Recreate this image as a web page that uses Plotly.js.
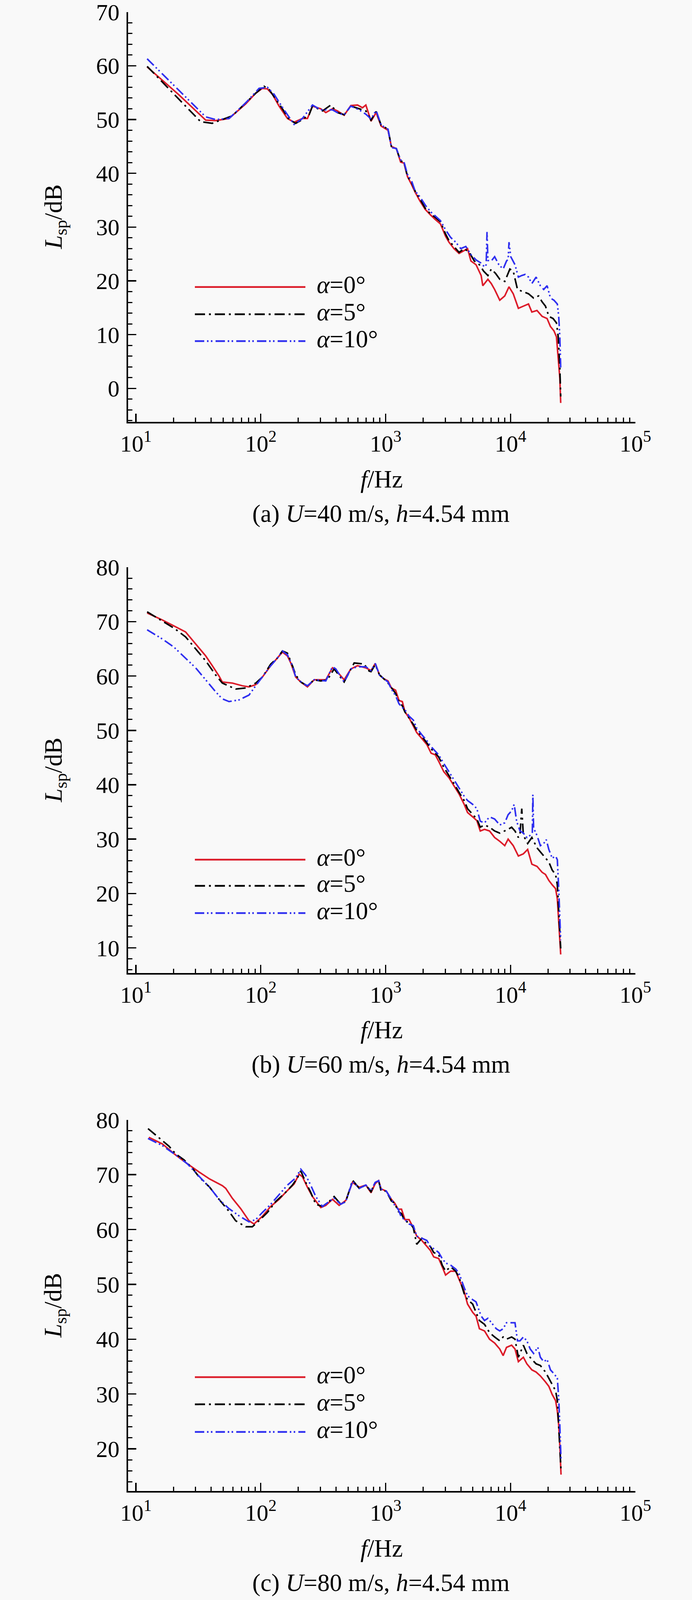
<!DOCTYPE html>
<html>
<head>
<meta charset="utf-8">
<script src="https://cdn.plot.ly/plotly-3.0.1.min.js"></script>
<style>html,body{margin:0;padding:0;background:#f9f9f9;overflow:hidden;}#chart{width:1772px;}</style>
</head>
<body>
<div id="chart"></div>
<script>
// ---------------- DATA ----------------
const seriesNames = ['α=0°', 'α=5°', 'α=10°'];
const captions = ['(a) <i>U</i>=40 m/s, <i>h</i>=4.54 mm', '(b) <i>U</i>=60 m/s, <i>h</i>=4.54 mm', '(c) <i>U</i>=80 m/s, <i>h</i>=4.54 mm'];
const xTickVals = [10, 100, 1000, 10000, 100000];
const xTickText = ['10<sup>1</sup>', '10<sup>2</sup>', '10<sup>3</sup>', '10<sup>4</sup>', '10<sup>5</sup>'];

// Panel (a) U=40 m/s
const fA0 = [12.3,22.1,36.2,43.5,55.7,75.7,91.1,103,113,123.9,140.2,163.5,184.9,215.7,236.5,259.4,302.5,331.8,375.3,411.6,465.3,526.4,595.4,652.9,694.3,764,839,920,1045,1112,1219,1318,1403,1496,1614,1722,1888,2075,2280,2500,2748,3020,3214,3524,3873,4256,4529,4819,5297,5821,5998,6592,7015,7464,8204,8995,9727,10520,11561,12677,13932,14825,16293,17906,19634,20893,22284,23335,24099,24831,25235];
const LA0 = [59.8,54.6,49.9,49.8,50.2,52.9,54.9,55.8,55.7,54.7,52.5,50.2,49.5,50.2,50.2,52.5,52.0,51.3,52.0,51.6,50.8,52.6,52.7,52.2,52.7,49.7,51.3,48.8,48.0,45.0,44.6,42.1,41.9,39.4,37.9,36.5,34.8,33.3,32.3,31.4,30.6,28.3,27.2,26.0,25.1,25.6,26.0,23.7,23.0,21.0,19.1,20.3,19.5,18.4,16.4,17.2,18.9,17.6,14.9,15.3,15.7,14.2,14.5,13.4,13.0,11.5,10.7,9.6,5.7,1.9,-2.7];
const fA5 = [12.3,33.0,40.9,49.2,59.2,75.7,91.1,106.2,116.5,131.8,149.1,168.6,190.6,215.7,243.9,259.4,312,363.9,411.6,465.3,526.4,614.1,694.3,764,839,920,1045,1112,1219,1318,1403,1496,1614,1722,1888,2075,2280,2500,2748,3020,3214,3524,3873,4256,4677,5129,5636,6095,6592,7015,7586,8204,8995,9886,10520,11376,12677,13932,15311,16788,17906,19055,20277,21928,23335,24099,24831,25235];
const LA5 = [59.9,49.6,49.3,50.0,50.7,53.1,54.9,56.2,55.6,53.8,52.0,50.0,49.3,50.0,50.9,52.5,51.6,52.7,51.3,50.9,52.5,52.0,51.6,49.9,51.5,49.0,48.2,45.0,44.6,42.3,42.1,39.4,38.3,36.7,35.2,33.5,32.5,31.8,31.0,28.7,27.5,26.4,25.3,26.0,25.3,23.7,23.0,21.8,21.0,22.2,21.4,20.3,19.9,22.2,21.8,18.4,18.0,17.6,16.8,17.2,16.1,15.3,13.4,13.0,12.2,9.6,3.8,-1.5];
const fA10 = [12.3,36.2,43.5,55.7,75.7,96.9,113,127.8,153.7,184.9,215.7,259.4,302.5,375.3,424.4,465.3,526.4,614.1,694.3,764,839,920,1045,1112,1219,1318,1403,1496,1614,1722,1888,2075,2280,2500,2748,3020,3311,3639,3999,4385,4819,5297,5821,6194,6383,6486,6592,7015,7464,8072,8730,9290,9572,9727,10046,10864,11561,12303,13092,13932,14825,16032,17338,18450,19634,20893,22284,23714,24322,24831,25235];
const LA10 = [61.3,50.5,50.0,50.2,53.1,55.8,56.0,54.7,51.8,49.1,50.2,52.7,51.8,51.8,51.1,50.9,52.5,51.8,51.0,50.1,51.7,49.0,48.2,44.8,44.6,42.5,42.1,39.8,38.6,36.7,35.6,34.1,32.9,32.1,31.2,29.5,28.1,27.2,26.0,26.4,24.9,23.9,23.3,22.6,23.0,29.1,23.8,23.7,24.5,23.0,22.2,23.7,24.0,27.2,24.5,23.0,20.7,21.0,21.2,20.7,19.5,20.7,19.1,18.4,19.1,16.8,16.4,15.7,13.4,9.6,3.8];

// Panel (b) U=60 m/s
const fB0 = [12.3,16.3,20.2,25.0,30.1,36.2,40.9,46.3,49.2,59.2,71.2,80.5,91.1,103,120.2,135.9,149.1,163.5,173.9,190.6,209.1,236.5,267.4,302.5,331.8,375.3,399,465.3,526.4,595.4,694.3,764,826,893,966,1045,1112,1201,1279,1361,1427,1542,1667,1774,1950,2138,2314,2500,2661,2924,3214,3524,3873,4256,4529,4977,5378,5724,6194,6792,7464,8204,8995,9572,10520,11561,12677,13722,14825,16293,17906,19055,20277,21577,22961,23714,24322,24831,25235];
const LB0 = [71.6,70.3,69.2,68.1,65.9,63.7,61.9,60.0,58.9,58.7,58.2,58.0,58.4,59.8,61.9,63.3,64.4,63.7,62.4,59.8,58.9,58.0,59.3,59.3,59.3,61.5,61.1,59.3,61.3,61.9,61.5,61.0,62.3,60.2,59.5,59.1,57.8,57.4,55.5,55.3,53.4,52.3,50.8,49.6,48.5,47.4,45.8,45.5,44.3,42.4,41.3,39.8,38.3,36.4,34.9,34.1,33.4,31.5,31.8,31.5,30.3,29.6,28.8,30.0,28.8,26.9,27.3,28.1,25.4,25.0,23.9,23.5,22.4,21.6,20.9,19.0,15.2,11.4,8.8];
const fB5 = [12.3,16.3,20.2,25.0,30.1,36.2,43.5,49.2,62.9,75.7,91.1,103,120.2,135.9,149.1,163.5,179.3,190.6,209.1,236.5,267.4,302.5,342,387,465.3,526.4,560,673,738,764,826,893,966,1045,1112,1201,1279,1361,1427,1542,1667,1774,1950,2138,2314,2500,2661,2924,3214,3524,3873,4256,4529,4977,5378,5724,6194,6792,7464,8204,8995,9572,10209,10864,11561,11912,12303,12677,13722,14825,16293,17906,19055,20277,21577,22961,23714,24322,24831,25235];
const LB5 = [71.8,70.1,68.8,67.2,65.0,62.8,60.2,58.7,57.6,57.8,58.7,59.8,62.2,63.3,64.6,64.2,61.9,60.2,58.9,58.2,59.3,59.1,59.3,61.3,58.9,61.3,62.4,62.2,60.9,60.8,62.1,60.2,59.5,58.7,57.9,56.8,55.3,54.5,53.4,52.3,51.1,50.0,48.9,47.7,46.6,45.8,45.1,43.2,41.7,40.2,38.6,37.1,35.6,34.5,33.7,32.2,32.6,32.2,31.5,31.1,31.5,31.8,32.2,31.5,30.3,30.8,35.6,30.7,29.2,30.3,28.4,27.3,26.5,25.8,24.3,23.5,21.6,17.1,13.3,9.9];
const fB10 = [12.3,16.3,20.2,25.0,30.1,36.2,43.5,49.2,55.7,66.9,80.5,91.1,103,120.2,135.9,149.1,163.5,179.3,190.6,215.7,236.5,267.4,331.8,375.3,399,465.3,526.4,595.4,694.3,764,826,893,966,1045,1112,1201,1279,1361,1427,1542,1667,1774,1950,2138,2314,2500,2661,2924,3214,3524,3873,4256,4529,4977,5378,5724,6194,6792,7464,8204,8995,9572,10209,10700,11194,11912,12677,13521,14388,14950,15100,15311,16293,17338,18450,19340,20277,21577,22961,23714,24322,24831,25235];
const LB10 = [68.5,66.8,65.3,63.3,61.5,59.3,57.1,55.8,55.3,55.6,56.5,58.2,59.8,61.9,63.3,64.6,63.9,61.9,59.8,58.7,58.2,59.3,59.1,61.7,61.3,58.9,61.3,61.7,61.7,61.0,62.3,60.2,59.5,58.9,57.6,56.4,54.9,54.2,53.8,52.6,51.9,50.4,49.2,48.1,47.0,46.2,45.5,43.9,42.4,40.9,39.4,37.9,37.1,36.4,35.6,33.3,33.0,34.1,33.7,32.6,33.0,34.5,35.2,36.4,33.3,31.5,31.1,30.3,30.7,31.0,38.2,32.0,30.7,28.8,29.2,29.9,28.1,26.5,26.9,26.2,20.9,15.2,11.4];

// Panel (c) U=80 m/s
const fC0 = [12.7,16.3,20.8,25.8,32.0,39.0,49.2,52.4,59.2,69.1,80.5,88.3,103,120.2,140.2,158.5,184.9,202.8,215.7,236.5,259.4,302.5,331.8,375.3,424.4,479.7,543,614.1,694.3,764,826,879,920,1012,1112,1183,1259,1340,1427,1542,1667,1774,1950,2138,2280,2427,2661,2838,3020,3311,3639,3873,4256,4529,4977,5297,5636,6194,6792,7464,8204,8730,9290,10209,10864,11561,12677,13521,14825,16032,17338,19055,20277,21577,22961,23714,24322,24831,25390];
const LC0 = [76.8,75.6,73.6,72.0,70.5,69.2,68.0,67.5,65.7,63.8,61.6,61.0,62.4,64.2,65.5,66.8,68.3,70.1,69.6,67.7,66.0,64.0,64.4,65.5,64.4,65.3,68.6,67.7,68.1,66.7,68.4,68.9,67.4,67.0,65.5,64.8,63.7,63.7,61.8,61.8,60.3,58.8,58.0,56.9,56.2,55.0,54.7,53.2,51.7,52.4,52.4,50.9,48.7,46.4,44.9,44.2,41.9,41.5,40.0,39.3,38.2,37.0,38.5,38.9,38.2,35.9,36.7,35.5,34.4,34.0,33.3,32.2,31.4,29.9,28.8,26.9,24.3,20.5,15.3];
const fC5 = [12.5,14.8,18.4,20.8,24.3,28.3,32.0,39.0,46.3,55.7,62.9,75.7,85.6,96.9,113,131.8,158.5,179.3,196.7,209,229,251,275.8,312,352.7,386.9,437.5,480,543,614.1,694.3,764,826,879,920,1012,1112,1183,1259,1340,1427,1542,1667,1774,1950,2138,2280,2427,2661,2838,3020,3311,3639,3873,4256,4529,4977,5297,5636,6194,6792,7464,8204,8730,9290,10209,10864,11561,12677,13521,14825,16032,17338,19055,20277,21577,22961,23714,24322,24831,25390];
const LC5 = [78.4,77.0,75.2,73.8,72.7,71.2,69.6,67.7,65.5,63.3,61.6,60.5,60.5,61.6,63.1,65.1,66.8,68.1,69.4,70.7,68.6,66.8,64.6,64.2,65.1,66.0,64.6,65.1,69.0,67.5,68.1,66.9,68.6,68.9,67.0,67.0,65.2,64.8,63.3,62.9,61.4,61.4,60.3,57.3,58.4,57.3,56.9,55.8,55.4,53.5,52.4,53.2,52.4,51.3,48.3,47.2,46.4,44.9,43.4,42.7,41.2,40.4,39.7,40.4,40.0,40.4,40.0,36.7,38.9,37.4,36.3,35.5,35.2,34.0,32.9,31.8,30.6,28.8,24.3,20.5,16.0];
const fC10 = [12.5,16.3,20.8,25.8,33.0,39.0,46.3,55.7,66.9,80.5,91.1,103,120.2,140.2,163.5,190.6,209,229,251,275.8,312,352.7,386.9,437.5,480,543,614.1,694.3,764,826,879,920,1012,1112,1183,1259,1340,1427,1542,1667,1774,1950,2138,2280,2427,2661,2838,3020,3311,3639,3873,4256,4529,4977,5297,5821,6194,6592,7015,7691,8204,8730,9290,10209,10864,11376,11912,12677,13521,14388,15311,16550,17338,18450,19634,20893,22284,23714,24322,24831,25390];
const LC10 = [76.6,75.3,73.6,72.0,69.4,67.7,65.5,63.8,62.5,61.4,61.8,63.1,64.6,66.4,68.1,69.4,71.0,69.9,68.1,66.0,64.2,65.1,65.7,64.6,65.1,68.8,67.5,68.1,67.1,68.6,68.9,67.4,67.0,65.5,64.4,63.7,62.2,61.8,61.0,60.7,58.8,58.4,58.0,56.9,56.5,55.8,54.7,53.9,53.5,52.8,52.0,49.4,47.9,47.2,46.8,44.2,43.4,43.8,43.0,41.9,41.5,41.9,43.0,43.0,43.0,39.7,39.7,40.4,39.7,38.2,37.4,38.5,36.7,35.9,36.3,34.4,33.7,32.9,29.2,24.3,17.9];

// ---------------- STYLE / LAYOUT ----------------
const W = 1772;
const REF_H = 4465;                       // height of the reference figure
const H = Math.min(REF_H, window.innerHeight || REF_H);  // visible page height
const sY = H / REF_H;                     // map reference rows onto the page
document.getElementById('chart').style.height = H + 'px';
const FONT = 'Liberation Serif, Times New Roman, serif';
const FS = 60;      // tick labels
const FT = 63;      // titles, captions, legend texts
const colors = ['#dc1c2a', '#000000', '#2f2ff0'];
const dashes = ['solid', '26px,10px,5px,10px', '24px,7px,4px,6px,4px,8px'];
const panels = [
  {top: 33.5, bottom: 1177, range: [-6.2, 70], legY: [801, 877, 952], data: [[fA0, LA0], [fA5, LA5], [fA10, LA10]]},
  {top: 1583, bottom: 2715, range: [5.4, 80], legY: [2399, 2472, 2548], data: [[fB0, LB0], [fB5, LB5], [fB10, LB10]]},
  {top: 3125, bottom: 4161, range: [12.3, 80], legY: [3843, 3919, 3996], data: [[fC0, LC0], [fC5, LC5], [fC10, LC10]]}
];
const plotLeft = 328, plotRight = 1627;
const px = x => x / W;
const py = y => 1 - (y * sY) / H;

const minorX = [];
[10, 100, 1000, 10000].forEach(d => { for (let k = 2; k <= 9; k++) minorX.push(k * d); });

const traces = [];
const layout = {
  width: W, height: H,
  margin: {l: 0, r: 0, t: 0, b: 0},
  paper_bgcolor: '#f9f9f9', plot_bgcolor: '#f9f9f9',
  showlegend: false,
  font: {family: FONT, color: '#000'},
  annotations: [], shapes: []
};

panels.forEach((p, i) => {
  const n = i === 0 ? '' : String(i + 1);
  const xa = 'x' + n, ya = 'y' + n;
  p.data.forEach((d, j) => {
    traces.push({
      x: d[0], y: d[1], xaxis: xa, yaxis: ya, type: 'scatter', mode: 'lines',
      name: seriesNames[j],
      line: {color: colors[j], width: 4, dash: dashes[j]}
    });
  });
  layout['xaxis' + n] = {
    type: 'log', range: [0.9375, 5], domain: [px(plotLeft), px(plotRight)], anchor: ya,
    showline: true, linecolor: '#000', linewidth: 4, mirror: false,
    showgrid: false, zeroline: false,
    ticks: 'inside', ticklen: 21, tickwidth: 3.5, tickcolor: '#000',
    tickmode: 'array', tickvals: xTickVals, ticktext: xTickText,
    tickfont: {family: FONT, size: FS, color: '#000'},
    ticklabelstandoff: 0, ticklabeloverflow: 'allow',
    minor: {tickmode: 'array', tickvals: minorX, ticks: 'inside', ticklen: 11, tickwidth: 3, tickcolor: '#000', showgrid: false}
  };
  layout['yaxis' + n] = {
    range: p.range, domain: [py(p.bottom), py(p.top)], anchor: xa,
    showline: true, linecolor: '#000', linewidth: 4, mirror: false,
    showgrid: false, zeroline: false,
    ticks: 'inside', ticklen: 21, tickwidth: 3.5, tickcolor: '#000',
    tick0: 0, dtick: 10,
    tickfont: {family: FONT, size: FS, color: '#000'},
    ticklabelstandoff: 6, ticklabeloverflow: 'allow',
    minor: {tick0: 0, dtick: 2, ticks: 'inside', ticklen: 11, tickwidth: 3, tickcolor: '#000', showgrid: false}
  };
  // axis titles and caption
  layout.annotations.push({
    xref: 'paper', yref: 'paper', x: px(141), y: py((p.top + p.bottom) / 2),
    text: '<i>L</i><sub>sp</sub>/dB', textangle: -90, showarrow: false,
    xanchor: 'center', yanchor: 'middle', font: {family: FONT, size: FT, color: '#000'}
  });
  layout.annotations.push({
    xref: 'paper', yref: 'paper', x: px(977), y: py(p.bottom + 160),
    text: '<i>f</i>/Hz', showarrow: false, xanchor: 'center', yanchor: 'middle',
    font: {family: FONT, size: FT, color: '#000'}
  });
  layout.annotations.push({
    xref: 'paper', yref: 'paper', x: px(975), y: py(p.bottom + 256),
    text: captions[i], showarrow: false, xanchor: 'center', yanchor: 'middle',
    font: {family: FONT, size: FT, color: '#000'}
  });
  // legend (drawn manually, long line samples)
  p.legY.forEach((ly, j) => {
    layout.shapes.push({
      type: 'line', xref: 'paper', yref: 'paper',
      x0: px(499), x1: px(782), y0: py(ly), y1: py(ly),
      line: {color: colors[j], width: 4.5, dash: dashes[j]}
    });
    layout.annotations.push({
      xref: 'paper', yref: 'paper', x: px(809), y: py(ly - 6),
      text: '<i>α</i>=' + seriesNames[j].split('=')[1], showarrow: false,
      xanchor: 'left', yanchor: 'middle', font: {family: FONT, size: FT, color: '#000'}
    });
  });
});

Plotly.newPlot('chart', traces, layout, {staticPlot: true, displayModeBar: false});
</script>
</body>
</html>
